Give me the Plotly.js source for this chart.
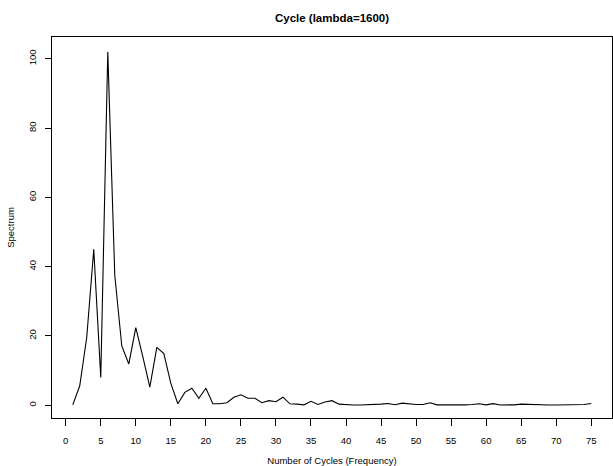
<!DOCTYPE html>
<html>
<head>
<meta charset="utf-8">
<script src="https://cdn.plot.ly/plotly-3.0.1.min.js"></script>
<style>html,body{margin:0;padding:0;background:#fff;}#chart{width:613px;height:466px;}</style>
</head>
<body>
<div id="chart"></div>
<script>
// Number of cycles (frequency), 1..75
var cycles = [];
for (var i = 1; i <= 75; i++) cycles.push(i);
// Spectrum values
var spectrum = [
  0.1, 5.6, 19.6, 45.0, 8.0, 102.0, 37.5, 17.1, 11.9, 22.4,
  14.0, 5.2, 16.7, 14.9, 6.3, 0.4, 3.7, 4.9, 2.0, 4.9,
  0.4, 0.4, 0.7, 2.3, 3.0, 2.0, 2.0, 0.7, 1.3, 1.0,
  2.3, 0.4, 0.3, 0.1, 1.1, 0.2, 0.9, 1.3, 0.3, 0.1,
  0.05, 0.05, 0.1, 0.2, 0.3, 0.5, 0.15, 0.6, 0.3, 0.2,
  0.2, 0.7, 0.1, 0.05, 0.05, 0.05, 0.1, 0.2, 0.4, 0.1,
  0.45, 0.05, 0.05, 0.1, 0.3, 0.2, 0.15, 0.1, 0.05, 0.05,
  0.05, 0.05, 0.05, 0.2, 0.5
];
var xTicks = [0,5,10,15,20,25,30,35,40,45,50,55,60,65,70,75];
var yTicks = [0,20,40,60,80,100];
var titleText = "Cycle (lambda=1600)";
var xTitle = "Number of Cycles (Frequency)";
var yTitle = "Spectrum";

var font = "Liberation Sans, Arial, Helvetica, sans-serif";
var trace = {
  x: cycles, y: spectrum, type: "scatter", mode: "lines",
  line: {color: "#000", width: 1.1}, hoverinfo: "none"
};
var layout = {
  width: 613, height: 466,
  margin: {l: 52, r: 1, t: 37, b: 48, pad: 0},
  paper_bgcolor: "#fff", plot_bgcolor: "#fff",
  showlegend: false,
  font: {family: font, color: "#000", size: 9.5},
  title: {text: "<b>" + titleText + "</b>", font: {family: font, size: 11.5, color: "#000"},
          x: 332/613, xanchor: "center", y: 1 - 17.6/466, yanchor: "middle"},
  xaxis: {
    range: [-1.96, 77.96], tickmode: "array", tickvals: xTicks,
    ticks: "outside", ticklen: 7, tickwidth: 1, tickcolor: "#000",
    showline: true, mirror: true, linecolor: "#000", linewidth: 1,
    showgrid: false, zeroline: false, ticklabelstandoff: 7,
    tickfont: {size: 9.5, family: font, color: "#000"},
    title: {text: xTitle, font: {size: 9.5, family: font, color: "#000"}, standoff: 12}
  },
  yaxis: {
    range: [-3.7, 106.3], tickmode: "array", tickvals: yTicks,
    ticks: "outside", ticklen: 6, tickwidth: 1, tickcolor: "#000",
    showline: true, mirror: true, linecolor: "#000", linewidth: 1,
    showgrid: false, zeroline: false, tickangle: -90, ticklabelstandoff: 5,
    tickfont: {size: 9.5, family: font, color: "#000"},
    title: {text: yTitle, font: {size: 9.5, family: font, color: "#000"}, standoff: 10}
  }
};
Plotly.newPlot("chart", [trace], layout, {displayModeBar: false, staticPlot: true});
</script>
</body>
</html>
